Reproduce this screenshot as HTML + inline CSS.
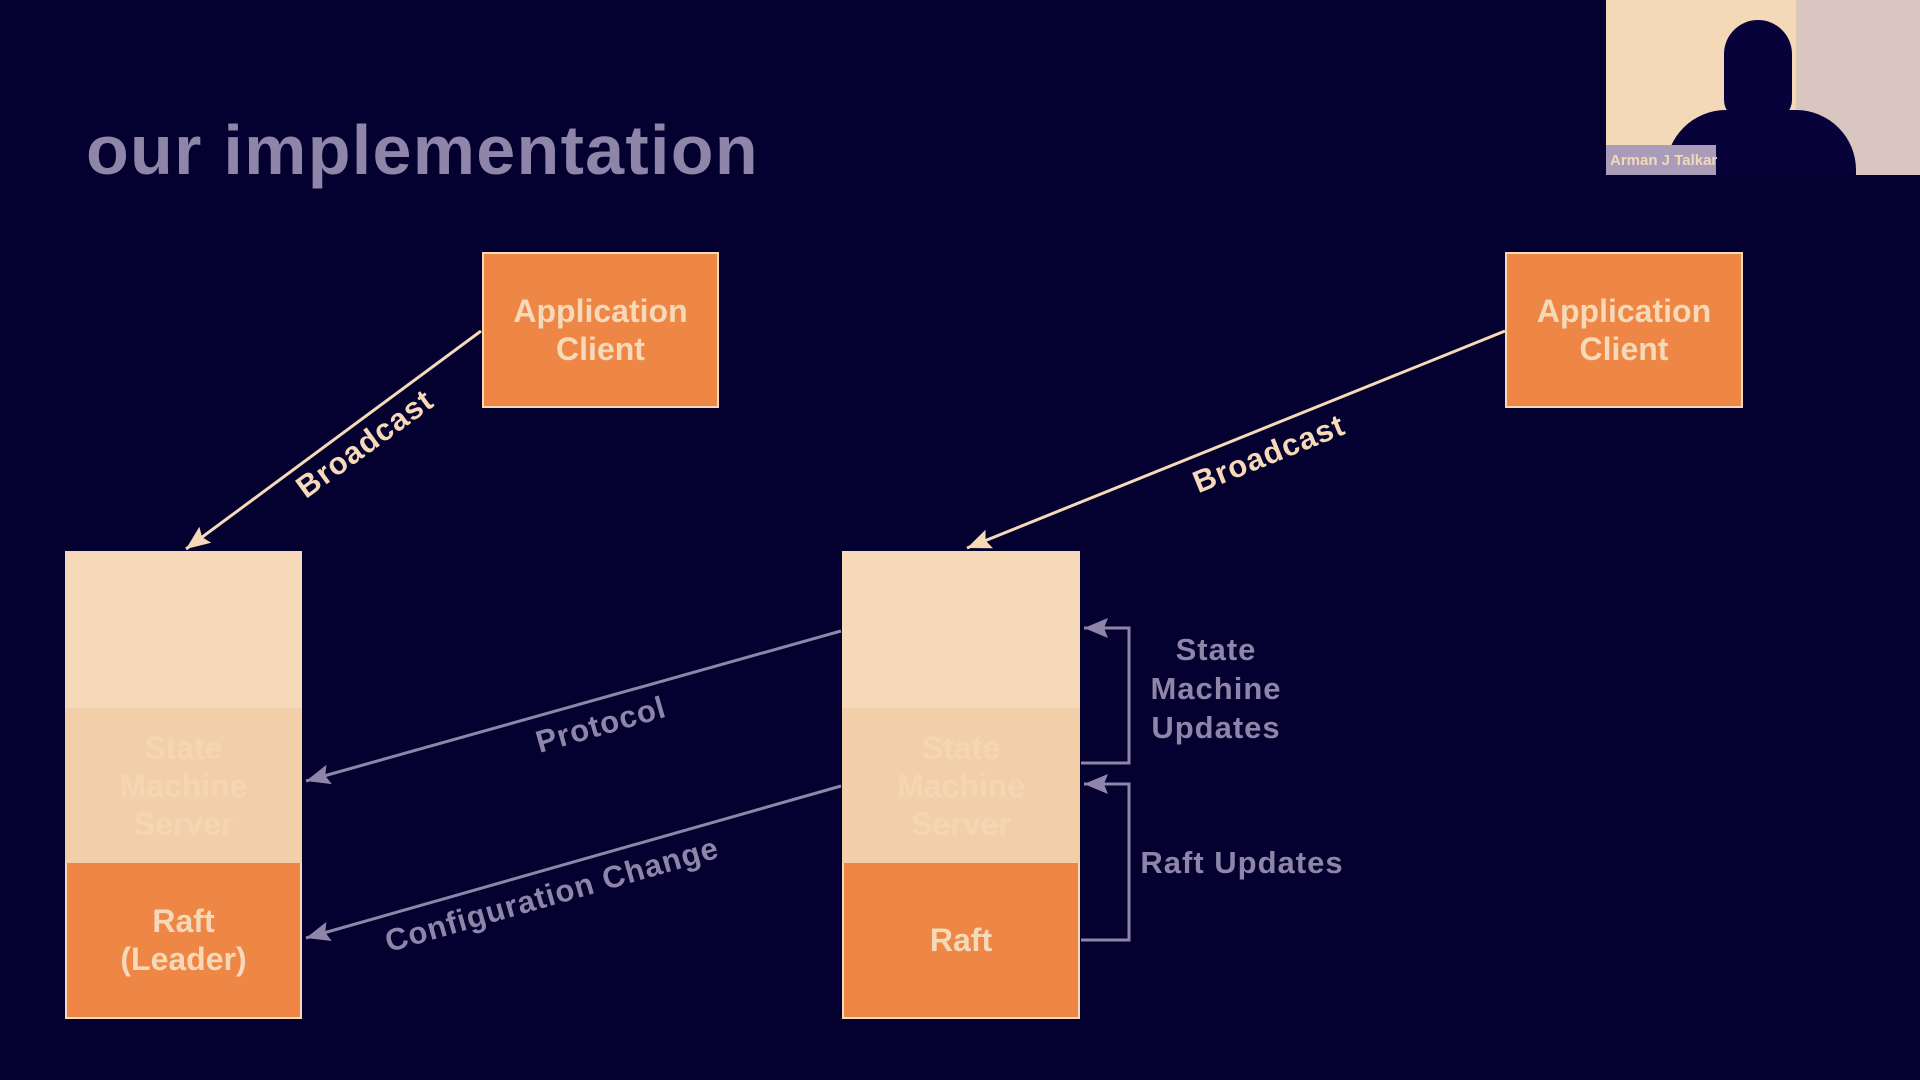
<!DOCTYPE html>
<html><head><style>
body{margin:0;width:1920px;height:1080px;background:#040030;overflow:hidden;position:relative;font-family:"Liberation Sans",sans-serif;}
.t{position:absolute;font-weight:bold;}
.box{position:absolute;box-sizing:border-box;display:flex;align-items:center;justify-content:center;text-align:center;font-weight:bold;font-size:32px;line-height:38px;}
</style></head><body>
<div class="t" style="left:86px;top:110px;font-size:70px;color:#8f85a8;letter-spacing:1.3px;">our implementation</div>

<div style="position:absolute;left:1606px;top:0;width:314px;height:175px;background:#f4d9b8;overflow:hidden;">
  <div style="position:absolute;left:190px;top:0;width:124px;height:175px;background:#d9c6c0;"></div>
  <div style="position:absolute;left:118px;top:20px;width:68px;height:100px;background:#07033a;border-radius:34px 34px 20px 20px;"></div>
  <div style="position:absolute;left:60px;top:110px;width:190px;height:80px;background:#07033a;border-radius:60px 60px 0 0;"></div>
  <div style="position:absolute;left:0;top:145px;width:110px;height:30px;background:#a89cb8;"></div>
  <div style="position:absolute;left:4px;top:152px;font-size:15px;color:#f4d9b8;font-weight:bold;z-index:2;">Arman J Talkar</div>
</div>

<div class="box" style="left:482px;top:252px;width:237px;height:156px;background:#ee8746;border:2px solid #f5d9b8;color:#f5d9b8;">Application<br>Client</div>
<div class="box" style="left:1505px;top:252px;width:238px;height:156px;background:#ee8746;border:2px solid #f5d9b8;color:#f5d9b8;">Application<br>Client</div>

<div class="box" style="left:65px;top:551px;width:237px;height:157px;background:#f5d9b8;"></div>
<div class="box" style="left:65px;top:708px;width:237px;height:155px;background:#f2cfa9;color:#f5d6b4;">State<br>Machine<br>Server</div>
<div class="box" style="left:65px;top:863px;width:237px;height:156px;background:#ee8746;border:2px solid #f5d9b8;border-top:none;color:#f5d9b8;">Raft<br>(Leader)</div>

<div class="box" style="left:842px;top:551px;width:238px;height:157px;background:#f5d9b8;"></div>
<div class="box" style="left:842px;top:708px;width:238px;height:155px;background:#f2cfa9;color:#f5d6b4;">State<br>Machine<br>Server</div>
<div class="box" style="left:842px;top:863px;width:238px;height:156px;background:#ee8746;border:2px solid #f5d9b8;border-top:none;color:#f5d9b8;">Raft</div>

<svg width="1920" height="1080" style="position:absolute;left:0;top:0">
<defs>
<marker id="a2" markerWidth="26" markerHeight="22" refX="24" refY="11" orient="auto" markerUnits="userSpaceOnUse"><path d="M0,1 L24,11 L0,21 L4,11 z" fill="#8f85a8"/></marker>
<marker id="a3" markerWidth="26" markerHeight="22" refX="24" refY="11" orient="auto" markerUnits="userSpaceOnUse"><path d="M0,1 L24,11 L0,21 L4,11 z" fill="#f5d9b8"/></marker>
</defs>
<g stroke-width="3" fill="none">
<line x1="481" y1="331" x2="186" y2="549" stroke="#f5d9b8" marker-end="url(#a3)"/>
<line x1="1505" y1="331" x2="967" y2="548" stroke="#f5d9b8" marker-end="url(#a3)"/>
<line x1="841" y1="631" x2="306" y2="781" stroke="#8f85a8" marker-end="url(#a2)"/>
<line x1="841" y1="786" x2="306" y2="938" stroke="#8f85a8" marker-end="url(#a2)"/>
<polyline points="1081,763 1129,763 1129,628 1084,628" stroke="#8f85a8" marker-end="url(#a2)"/>
<polyline points="1081,940 1129,940 1129,784 1084,784" stroke="#8f85a8" marker-end="url(#a2)"/>
</g>
<g font-family="Liberation Sans, sans-serif" font-weight="bold" font-size="31" text-anchor="middle" letter-spacing="1">
<text x="365" y="454" fill="#f5d9b8" transform="rotate(-36 365 444)">Broadcast</text>
<text x="1269" y="464" fill="#f5d9b8" transform="rotate(-22 1269 454)">Broadcast</text>
<text x="601" y="735" fill="#8f85a8" transform="rotate(-16 601 725)">Protocol</text>
<text x="552" y="905" fill="#8f85a8" transform="rotate(-16 552 895)">Configuration Change</text>
<text x="1216" y="660" fill="#8f85a8">State</text>
<text x="1216" y="699" fill="#8f85a8">Machine</text>
<text x="1216" y="738" fill="#8f85a8">Updates</text>
<text x="1242" y="873" fill="#8f85a8">Raft Updates</text>
</g>
</svg>
</body></html>
